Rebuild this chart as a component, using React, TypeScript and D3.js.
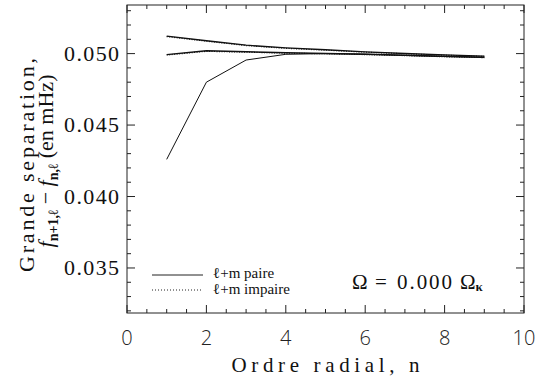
import React from "react";
import * as d3 from "d3";

const W = 537;
const H = 379;

const radialOrder = [1, 2, 3, 4, 5, 6, 7, 8, 9];

// ℓ+m paire (solid)
const paireTop = [0.05122, 0.0509, 0.05059, 0.0504, 0.05027, 0.05012, 0.05001, 0.04991, 0.04982];
const paireMid = [0.04993, 0.0502, 0.05013, 0.05006, 0.05001, 0.04995, 0.04988, 0.04981, 0.04975];
const paireLow = [0.0426, 0.0480, 0.04955, 0.04995, 0.05, 0.04996, 0.04987, 0.04979, 0.04972];
// ℓ+m impaire (dotted)
const impaireTop = [0.05119, 0.05087, 0.05056, 0.05037, 0.05024, 0.0501, 0.04999, 0.04989, 0.0498];
const impaireMid = [0.0499, 0.05016, 0.0501, 0.05003, 0.04999, 0.04993, 0.04986, 0.04978, 0.04972];

const xTicks = [0, 2, 4, 6, 8, 10];
const yTicks = [0.035, 0.04, 0.045, 0.05];

const solidSeries = [paireTop, paireMid, paireLow];
const dottedSeries = [impaireTop, impaireMid];

export default function App() {
  const left = 127, right = 524, top = 5, bottom = 313;
  const x = d3.scaleLinear().domain([0, 10]).range([left, right]);
  const y = d3.scaleLinear().domain([0.03185, 0.0534]).range([bottom, top]);
  const line = d3
    .line<number>()
    .x((_, i) => x(radialOrder[i]))
    .y((d) => y(d));

  const xMinor = d3.range(0, 10.001, 0.5);
  const yMinor = d3.range(0.032, 0.0534, 0.001);
  const serif = "'Liberation Serif', 'DejaVu Serif', serif";
  const stroke = "#222";

  return (
    <svg width={W} height={H} style={{ position: "absolute", left: 0, top: 0, background: "#fff" }}>
      <rect x={0} y={0} width={W} height={H} fill="#fff" />
      {/* frame */}
      <rect x={left} y={top} width={right - left} height={bottom - top} fill="none" stroke={stroke} strokeWidth={1} />
      {/* ticks */}
      {xMinor.map((v, i) => {
        const major = Math.abs(v / 2 - Math.round(v / 2)) < 1e-6;
        const len = major ? 8 : 4;
        return (
          <g key={"xt" + i}>
            <line x1={x(v)} x2={x(v)} y1={bottom} y2={bottom - len} stroke={stroke} />
            <line x1={x(v)} x2={x(v)} y1={top} y2={top + len} stroke={stroke} />
          </g>
        );
      })}
      {yMinor.map((v, i) => {
        const major = Math.abs(v / 0.005 - Math.round(v / 0.005)) < 1e-6;
        const len = major ? 8 : 4;
        return (
          <g key={"yt" + i}>
            <line x1={left} x2={left + len} y1={y(v)} y2={y(v)} stroke={stroke} />
            <line x1={right} x2={right - len} y1={y(v)} y2={y(v)} stroke={stroke} />
          </g>
        );
      })}
      {xTicks.map((v) => (
        <text key={"xl" + v} x={x(v)} y={345} textAnchor="middle" fontFamily="'Open Sans', sans-serif" fontWeight={300} fontSize={20} fill="#222">
          {v}
        </text>
      ))}
      {yTicks.map((v) => (
        <text key={"yl" + v} x={119} y={y(v) + 7} textAnchor="end" fontFamily={serif} fontSize={22} textLength={55} lengthAdjust="spacing" fill="#111">
          {v.toFixed(3)}
        </text>
      ))}
      {/* axis titles */}
      <text x={x(5)} y={372} textAnchor="middle" fontFamily={serif} fontSize={21} textLength={188} lengthAdjust="spacing" fill="#111">
        Ordre radial, n
      </text>
      <text transform={`translate(34,${165}) rotate(-90)`} textAnchor="middle" fontFamily={serif} fontSize={22} textLength={214} lengthAdjust="spacing" fill="#111">
        Grande separation,
      </text>
      <text transform={`translate(53,${161}) rotate(-90)`} textAnchor="middle" fontFamily={serif} fontSize={22} fill="#111">
        <tspan fontStyle="italic">f</tspan>
        <tspan fontSize={14} fontWeight="bold" dy={5}>n+1,ℓ</tspan>
        <tspan dy={-5}> − </tspan>
        <tspan fontStyle="italic">f</tspan>
        <tspan fontSize={14} fontWeight="bold" dy={5}>n,ℓ</tspan>
        <tspan dy={-5}> (en mHz)</tspan>
      </text>
      {/* data */}
      {dottedSeries.map((s, i) => (
        <path key={"d" + i} d={line(s) || ""} fill="none" stroke="#111" strokeWidth={1.2} strokeDasharray="1,1.5" />
      ))}
      {solidSeries.map((s, i) => (
        <path key={"s" + i} d={line(s) || ""} fill="none" stroke="#111" strokeWidth={i === 2 ? 1 : 1.4} />
      ))}
      {/* legend */}
      <line x1={152} x2={203} y1={275} y2={275} stroke="#222" strokeWidth={1} />
      <line x1={152} x2={203} y1={290} y2={290} stroke="#222" strokeWidth={1} strokeDasharray="1,2" />
      <text x={213} y={278} fontFamily={serif} fontSize={15} fill="#111">
        ℓ+m paire
      </text>
      <text x={213} y={294} fontFamily={serif} fontSize={15} fill="#111">
        ℓ+m impaire
      </text>
      <text x={352} y={289} fontFamily={serif} fontSize={21} fill="#111">Ω</text>
      <text x={375} y={289} fontFamily={serif} fontSize={21} fill="#111">=</text>
      <text x={397} y={289} fontFamily={serif} fontSize={21} textLength={55} lengthAdjust="spacing" fill="#111">0.000</text>
      <text x={460} y={289} fontFamily={serif} fontSize={21} fill="#111">
        Ω<tspan fontSize={13} fontWeight="bold" dy={2}>κ</tspan>
      </text>
    </svg>
  );
}
